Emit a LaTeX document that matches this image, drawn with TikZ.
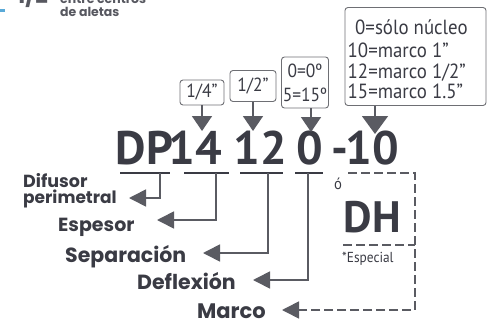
\documentclass[tikz,border=0pt]{standalone}
\usepackage{fontspec}
\setmainfont{PT Sans}
\newfontfamily\bigfont{PT Sans}
\newfontfamily\boxfont[FakeStretch=0.92]{PT Sans}
\newfontfamily\lblfont{Poppins}
\usetikzlibrary{arrows.meta}
\definecolor{ink}{HTML}{3A3B44}
\definecolor{ln}{HTML}{5A5B62}
\definecolor{bx}{HTML}{6E6F74}
\definecolor{blu}{HTML}{5AAAD8}
\begin{document}
\begin{tikzpicture}[x=1pt,y=-1pt,
  big/.style={font=\bigfont\bfseries\fontsize{47}{47}\selectfont, text=ink, inner sep=0pt, anchor=base},
  lbl/.style={font=\lblfont\bfseries\fontsize{19}{19}\selectfont, text=ink, inner sep=0pt, anchor=base west},
  topt/.style={font=\lblfont\bfseries\fontsize{12.5}{12.5}\selectfont, text=ink!85, inner sep=0pt, anchor=base west},
  boxframe/.style={draw=bx, line width=0.9pt, rounded corners=3pt, inner sep=0pt, text=ink, align=center},
  boxtxt/.style={font=\boxfont\fontsize{20.5}{20.5}\selectfont, text=ink, inner sep=0pt, anchor=base west},
  smallt/.style={font=\boxfont\fontsize{19}{24}\selectfont},
  uline/.style={draw=ink, line width=1.8pt},
  conn/.style={draw=ln, line width=1.6pt, -{Triangle[length=17pt,width=17pt]}},
  dconn/.style={draw=ln, line width=1.6pt, dash pattern=on 9pt off 4pt},
  darr/.style={draw=ln, line width=1.6pt, -{Triangle[length=15pt,width=20pt]}},
  bigarr/.style={draw=ln, line width=1.6pt, -{Triangle[length=18pt,width=26pt]}},
]
\useasboundingbox (0,0) rectangle (487,329);
\clip (0,0) rectangle (487,329);

% top-left cut-off heading
\fill[blu] (0,9.5) rectangle (5,12);
\node[font=\lblfont\bfseries\fontsize{22}{22}\selectfont, text=ink!85, inner sep=0pt, anchor=base west] (half) at (17,4) {1/2};
\node[topt] (entre) at (60,4) {entre centros};
\node[topt] (aletas) at (60,17) {de aletas};

% main code
\node[big] (DP) at (144.5,164) {DP};
\node[big] (n14) at (195,164) {14};
\node[big] (n12) at (260,164) {12};
\node[big] (n0) at (310,164) {0};
\node[big] (ndash) at (340,164) {-};
\node[big] (n10) at (372,164) {10};

% boxes
\node[boxframe, smallt, minimum width=44pt, minimum height=25pt] (b4) at (202,92.5) {1/4”};
\node[boxframe, smallt, minimum width=46pt, minimum height=31pt] (b2) at (253,86) {1/2”};
\node[boxframe, smallt, minimum width=47pt, minimum height=51pt] (b0) at (305,82.5) {0=0º\\5=15º};
\node[boxframe, minimum width=141pt, minimum height=98pt] (bb) at (415.5,56.5) {};
\node[boxtxt] (l1) at (355,35) {0=sólo núcleo};
\node[boxtxt] (l2) at (347.5,57) {10=marco 1”};
\node[boxtxt] (l3) at (347.5,78) {12=marco 1/2”};
\node[boxtxt] (l4) at (347.5,99) {15=marco 1.5”};

% down arrows
\coordinate (t4) at (202,131);
\coordinate (t2) at (253,131);
\coordinate (t0) at (311,132);
\coordinate (t10) at (375,134);
\draw[darr] (b4.south) -- (t4);
\draw[darr] (b2.south) -- (t2);
\draw[darr] (b0.south -| t0) -- (t0);
\draw[bigarr] (bb.south -| t10) -- (t10);

% underlines
\coordinate (uDPa) at (120,173); \coordinate (uDPb) at (170,173);
\coordinate (u14a) at (184,173); \coordinate (u14b) at (229,173);
\coordinate (u12a) at (240,173); \coordinate (u12b) at (283,173);
\coordinate (u0a) at (295,173);  \coordinate (u0b) at (323,173);
\draw[uline] (uDPa) -- (uDPb);
\draw[uline] (u14a) -- (u14b);
\draw[uline] (u12a) -- (u12b);
\draw[uline] (u0a) -- (u0b);

% labels
\node[lbl, font=\lblfont\bfseries\fontsize{17.5}{17.5}\selectfont] (dif) at (23,187) {Difusor};
\node[lbl, font=\lblfont\bfseries\fontsize{17}{17}\selectfont] (per) at (23,203) {perimetral};
\node[lbl] (esp) at (58,231) {Espesor};
\node[lbl, font=\lblfont\bfseries\fontsize{20.5}{20.5}\selectfont] (sep) at (65,262) {Separación};
\node[lbl, font=\lblfont\bfseries\fontsize{20.5}{20.5}\selectfont] (def) at (137,289) {Deflexión};
\node[lbl, font=\lblfont\bfseries\fontsize{21}{21}\selectfont] (mar) at (197,318) {Marco};

% connectors to labels
\coordinate (vDP) at (160,173); \coordinate (tDP) at (129,198);
\coordinate (v14) at (216,173); \coordinate (t14) at (157,220);
\coordinate (v12) at (268,173); \coordinate (t12) at (203,253);
\coordinate (v0) at (308,173);  \coordinate (t0b) at (253,280);
\draw[conn] (vDP) |- (tDP);
\draw[conn] (v14) |- (t14);
\draw[conn] (v12) |- (t12);
\draw[conn] (v0) |- (t0b);

% dashed frame for marco / DH
\coordinate (dA) at (348,173);
\coordinate (dB) at (415,173);
\coordinate (dC) at (415,310);
\coordinate (tM) at (282,310);
\coordinate (dDa) at (343,245);
\coordinate (dDb) at (415,245);
\draw[dconn] (dA) -- (dB) -- (dC) -- (300,310);
\draw[conn] (300,310) -- (tM);
\draw[dconn] (dDa) -- (dDb);

\node[font=\boxfont\fontsize{16}{16}\selectfont, text=ink, inner sep=0pt, anchor=base] (o) at (338,189) {ó};
\node[big, font=\bigfont\bfseries\fontsize{44}{44}\selectfont] (DH) at (372.5,232) {DH};
\node[font=\boxfont\fontsize{14.5}{14.5}\selectfont, text=ink, inner sep=0pt, anchor=base west] (espc) at (342,262) {*Especial};
\end{tikzpicture}
\end{document}
